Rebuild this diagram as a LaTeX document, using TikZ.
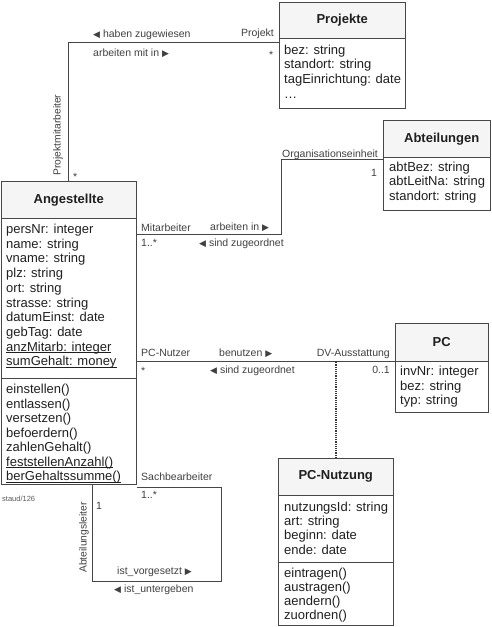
\documentclass[tikz,border=0pt]{standalone}
\usepackage{fontspec}
\setmainfont{Liberation Sans}
\newfontfamily\symf{DejaVu Sans}
\usetikzlibrary{calc}
\newcommand{\lA}{{\symf\fontsize{9}{9}\selectfont ◀}}
\newcommand{\rA}{{\symf\fontsize{9}{9}\selectfont ▶}}
\newsavebox\ulbox
\newcommand{\myul}[1]{\sbox\ulbox{#1}\rlap{\rule[-1.7pt]{\wd\ulbox}{0.7pt}}\usebox\ulbox}
\begin{document}
\begin{tikzpicture}[x=1pt,y=-1pt,
  line/.style={draw=black!72, line width=1pt},
  hdr/.style={fill=black!4, inner sep=0, anchor=north west, font=\fontsize{13}{14}\selectfont\bfseries, text=black!88},
  outline/.style={line, inner sep=0, anchor=north west},
  attr/.style={anchor=base west, inner sep=0, font=\fontsize{13}{14}\selectfont, text=black!88},
  lbl/.style={anchor=base west, inner sep=0, font=\fontsize{10.5}{12}\selectfont, text=black!75},
  lblr/.style={lbl, anchor=base east},
  rlbl/.style={inner sep=0, rotate=90, font=\fontsize{10.3}{12}\selectfont, text=black!75},
  conn/.style={line},
  dv/.style={draw=black!78, line width=1.1pt, dash pattern=on 1.2pt off 1pt},
]
\useasboundingbox (0,0) rectangle (491,627);

% ---------- Projekte ----------
\node[hdr, minimum width=126, minimum height=36] (proj-h) at (279,2) {Projekte};
\node[outline, minimum width=126, minimum height=106] (proj) at (279,2) {};
\draw[line] (proj-h.south west) -- (proj-h.south east);
\foreach [count=\i from 0] \t in {bez: string, standort: string, tagEinrichtung: date, …}
  \node[attr] (proj-a\i) at (284, 54+14.7*\i) {\t};

% ---------- Abteilungen ----------
\node[hdr, minimum width=107, minimum height=37] (abt-h) at (383,120) {\hspace*{10pt}Abteilungen};
\node[outline, minimum width=107, minimum height=90] (abt) at (383,120) {};
\draw[line] (abt-h.south west) -- (abt-h.south east);
\foreach [count=\i from 0] \t in {abtBez: string, abtLeitNa: string, standort: string}
  \node[attr] (abt-a\i) at (389, 171+14.7*\i) {\t};

% ---------- Angestellte ----------
\node[hdr, minimum width=135, minimum height=37] (ang-h) at (1,181) {Angestellte};
\node[outline, minimum width=135, minimum height=303] (ang) at (1,181) {};
\draw[line] (ang-h.south west) -- (ang-h.south east);
\draw[line] ($(ang.north west)+(0,197)$) -- ($(ang.north east)+(0,197)$);
\foreach [count=\i from 0] \t in {persNr: integer, name: string, vname: string, plz: string, ort: string, strasse: string, datumEinst: date, gebTag: date, {\myul{anzMitarb: integer}}, {\myul{sumGehalt: money}}}
  \node[attr] (ang-a\i) at (6, 233.5+14.7*\i) {\t};
\foreach [count=\i from 0] \t in {einstellen(), entlassen(), versetzen(), befoerdern(), zahlenGehalt(), {\myul{feststellenAnzahl()}}, {\myul{berGehaltssumme()}}}
  \node[attr] (ang-m\i) at (6, 393.5+14.55*\i) {\t};

% ---------- PC ----------
\node[hdr, minimum width=93, minimum height=38] (pc-h) at (395,323) {PC};
\node[outline, minimum width=93, minimum height=89] (pc) at (395,323) {};
\draw[line] (pc-h.south west) -- (pc-h.south east);
\foreach [count=\i from 0] \t in {invNr: integer, bez: string, typ: string}
  \node[attr] (pc-a\i) at (400, 375.5+14.5*\i) {\t};

% ---------- PC-Nutzung ----------
\node[hdr, minimum width=115, minimum height=37] (pcn-h) at (278,458) {PC-Nutzung};
\node[outline, minimum width=115, minimum height=167] (pcn) at (278,458) {};
\draw[line] (pcn-h.south west) -- (pcn-h.south east);
\draw[line] ($(pcn.north west)+(0,104)$) -- ($(pcn.north east)+(0,104)$);
\foreach [count=\i from 0] \t in {nutzungsId: string, art: string, beginn: date, ende: date}
  \node[attr] (pcn-a\i) at (284, 511+14.4*\i) {\t};
\foreach [count=\i from 0] \t in {eintragen(), austragen(), aendern(), zuordnen()}
  \node[attr] (pcn-m\i) at (284, 577+14.2*\i) {\t};

% ---------- Connectors ----------
\draw[conn] ($(ang.north west)+(67,0)$) |- ($(proj.north west)+(0,40)$);
\draw[conn] ($(ang.north east)+(0,53)$) -- ++(144,0) |- ($(abt.north west)+(0,39)$);
\draw[conn] ($(ang.north east)+(0,180)$) -- ($(pc.north west)+(0,38)$);
\coordinate (dvpt) at ($(pc.north west)+(0,38)$);
\draw[dv] (pcn.north) -- (pcn.north |- dvpt);
\draw[conn] ($(ang.south west)+(91,0)$) -- ++(0,96) -- ++(129,0) -- ++(0,-94) -- ($(ang.south east)+(0,2)$);

% ---------- Labels ----------
\node[lbl] (l1) at (93,37.5) {\lA\ haben zugewiesen};
\node[lbl] (l2) at (93,56.5) {arbeiten mit in \rA};
\node[lblr] (l3) at (274,36.5) {Projekt};
\node[lbl] (l4) at (269,58) {*};
\node[rlbl] (l5) at (58,135) {Projektmitarbeiter};
\node[lbl] (l6) at (73,180) {*};
\node[lbl] (l7) at (282,157) {Organisationseinheit};
\node[lbl] (l8) at (371,176) {1};
\node[lbl] (l9) at (141,231) {Mitarbeiter};
\node[lbl] (l10) at (210,230) {arbeiten in \rA};
\node[lbl] (l11) at (141,246) {1..*};
\node[lbl] (l12) at (199,246) {\lA\ sind zugeordnet};
\node[lbl] (l13) at (141,356) {PC-Nutzer};
\node[lbl] (l14) at (219,356) {benutzen \rA};
\node[lblr] (l15) at (390,356) {DV-Ausstattung};
\node[lbl] (l16) at (141,374) {*};
\node[lbl] (l17) at (210,373) {\lA\ sind zugeordnet};
\node[lblr] (l18) at (390,373) {0..1};
\node[lbl] (l19) at (141,480.5) {Sachbearbeiter};
\node[lbl] (l20) at (141,498) {1..*};
\node[lbl] (l21) at (96,509) {1};
\node[rlbl] (l22) at (84,537.5) {Abteilungsleiter};
\node[lbl] (l23) at (117,574) {ist\_vorgesetzt \rA};
\node[lbl] (l24) at (114,592.5) {\lA\ ist\_untergeben};
\node[lbl, font=\fontsize{7.5}{8}\selectfont, text=black!65] (l25) at (2,501) {staud/126};
\end{tikzpicture}
\end{document}
